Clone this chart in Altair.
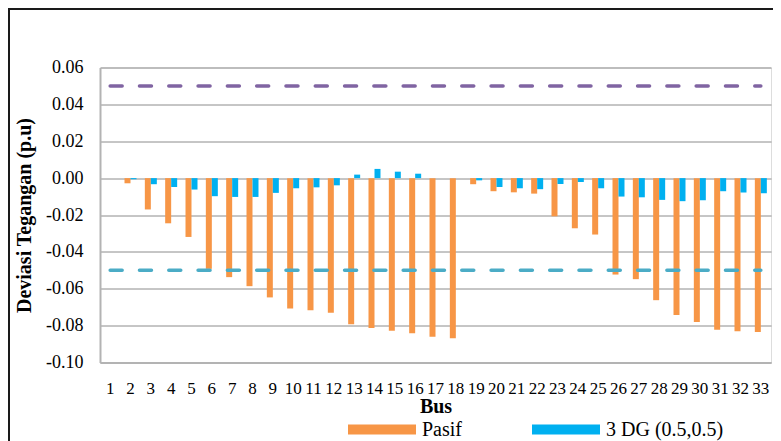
import altair as alt
import pandas as pd

buses = list(range(1, 34))
pasif = [0.0000, -0.0028, -0.0170, -0.0245, -0.0319, -0.0492, -0.0537, -0.0586, -0.0647,
         -0.0707, -0.0716, -0.0730, -0.0792, -0.0813, -0.0828, -0.0841, -0.0860, -0.0868,
         -0.0033, -0.0071, -0.0077, -0.0084, -0.0207, -0.0272, -0.0306, -0.0523, -0.0548,
         -0.0662, -0.0743, -0.0781, -0.0822, -0.0831, -0.0835]
dg3 = [0.0000, -0.0006, -0.0033, -0.0048, -0.0062, -0.0098, -0.0102, -0.0102, -0.0080,
       -0.0055, -0.0050, -0.0039, 0.0019, 0.0050, 0.0035, 0.0024, 0.0000, 0.0000,
       -0.0012, -0.0048, -0.0055, -0.0060, -0.0032, -0.0021, -0.0055, -0.0100, -0.0104,
       -0.0118, -0.0125, -0.0120, -0.0071, -0.0078, -0.0082]
series_names = ["Pasif", "3 DG (0.5,0.5)"]
series_colors = ["#F79646", "#00B0F0"]
upper_limit = 0.05
lower_limit = -0.05
y_ticks = [-0.10, -0.08, -0.06, -0.04, -0.02, 0.00, 0.02, 0.04, 0.06]

rows = []
for b, p, d in zip(buses, pasif, dg3):
    rows.append({"Bus": b, "Seri": series_names[0], "Nilai": p})
    rows.append({"Bus": b, "Seri": series_names[1], "Nilai": d})
df = pd.DataFrame(rows)

lim_rows = []
for b in buses:
    lim_rows.append({"Bus": b, "Batas": "atas", "Nilai": upper_limit})
    lim_rows.append({"Bus": b, "Batas": "bawah", "Nilai": lower_limit})
lim = pd.DataFrame(lim_rows)

FONT = "Liberation Serif, Times New Roman, serif"

x_enc = alt.X("Bus:O", sort=buses,
              scale=alt.Scale(paddingInner=0.41, paddingOuter=0.205),
              axis=alt.Axis(title="Bus", labelAngle=0, ticks=False, grid=False,
                            labelFont=FONT, labelFontSize=17, labelColor="black",
                            labelPadding=18, titleFont=FONT, titleFontSize=20,
                            titleFontWeight="bold", titleColor="black", titlePadding=0,
                            domainColor="#b3b3b3", domainWidth=2, labelOverlap=False))
y_scale = alt.Scale(domain=[-0.10, 0.06], nice=False, zero=False)
y_axis = alt.Axis(title="Deviasi Tegangan (p.u)", values=y_ticks, ticks=False,
                  labelExpr="replace(format(datum.value, '.2f'), '\u2212', '-')",
                  labelFont=FONT, labelFontSize=18, labelColor="black", labelPadding=17,
                  labelOverlap=False, labelBound=False, labelFlush=False,
                  titleFont=FONT, titleFontSize=20, titleFontWeight="bold",
                  titleColor="black", titlePadding=11,
                  gridColor="#8c8c8c", gridWidth=1, domainColor="#b3b3b3", domainWidth=2)

bars = alt.Chart(df).mark_bar().encode(
    x=x_enc,
    xOffset=alt.XOffset("Seri:N", sort=series_names),
    y=alt.Y("Nilai:Q", scale=y_scale, axis=y_axis),
    color=alt.Color("Seri:N", sort=series_names,
                    scale=alt.Scale(domain=series_names, range=series_colors),
                    legend=alt.Legend(title=None, orient="none", direction="horizontal",
                                      legendX=248, legendY=328, columns=2,
                                      columnPadding=70, labelFont=FONT, labelFontSize=20,
                                      labelColor="black", labelOffset=6,
                                      symbolType="M-1,-0.15H1V0.15H-1Z", symbolSize=4624,
                                      symbolStrokeWidth=0, symbolOpacity=1, padding=0)),
)

lines = alt.Chart(lim).mark_line(strokeWidth=3.5, strokeCap="round",
                                 strokeDash=[12, 17.3]).encode(
    x=alt.X("Bus:O", sort=buses),
    y=alt.Y("Nilai:Q", scale=y_scale, axis=y_axis),
    detail="Batas:N",
    stroke=alt.Stroke("Batas:N", scale=alt.Scale(domain=["atas", "bawah"],
                                                range=["#8064A2", "#4BACC6"]),
                      legend=None),
)

frame_data = alt.Data(values=[{}])
frame_left = alt.Chart(frame_data).mark_rule(color="#1a1a1a", strokeWidth=2).encode(
    x=alt.value(-91), y=alt.value(-60), y2=alt.value(420))
frame_top = alt.Chart(frame_data).mark_rule(color="#1a1a1a", strokeWidth=2).encode(
    x=alt.value(-92), x2=alt.value(700), y=alt.value(-58.5))

chart = alt.layer(bars, lines, frame_left, frame_top).resolve_scale(
    color="independent"
).properties(
    width=671, height=295,
    autosize=alt.AutoSizeParams(type="none"),
    padding={"left": 92, "top": 59.5, "right": 2, "bottom": 78.5},
).configure_view(strokeWidth=0).configure_axis(
    labelOverlap=False
).configure(background="white")

chart.save("out.html", embed_options={"renderer": "svg", "actions": False})
